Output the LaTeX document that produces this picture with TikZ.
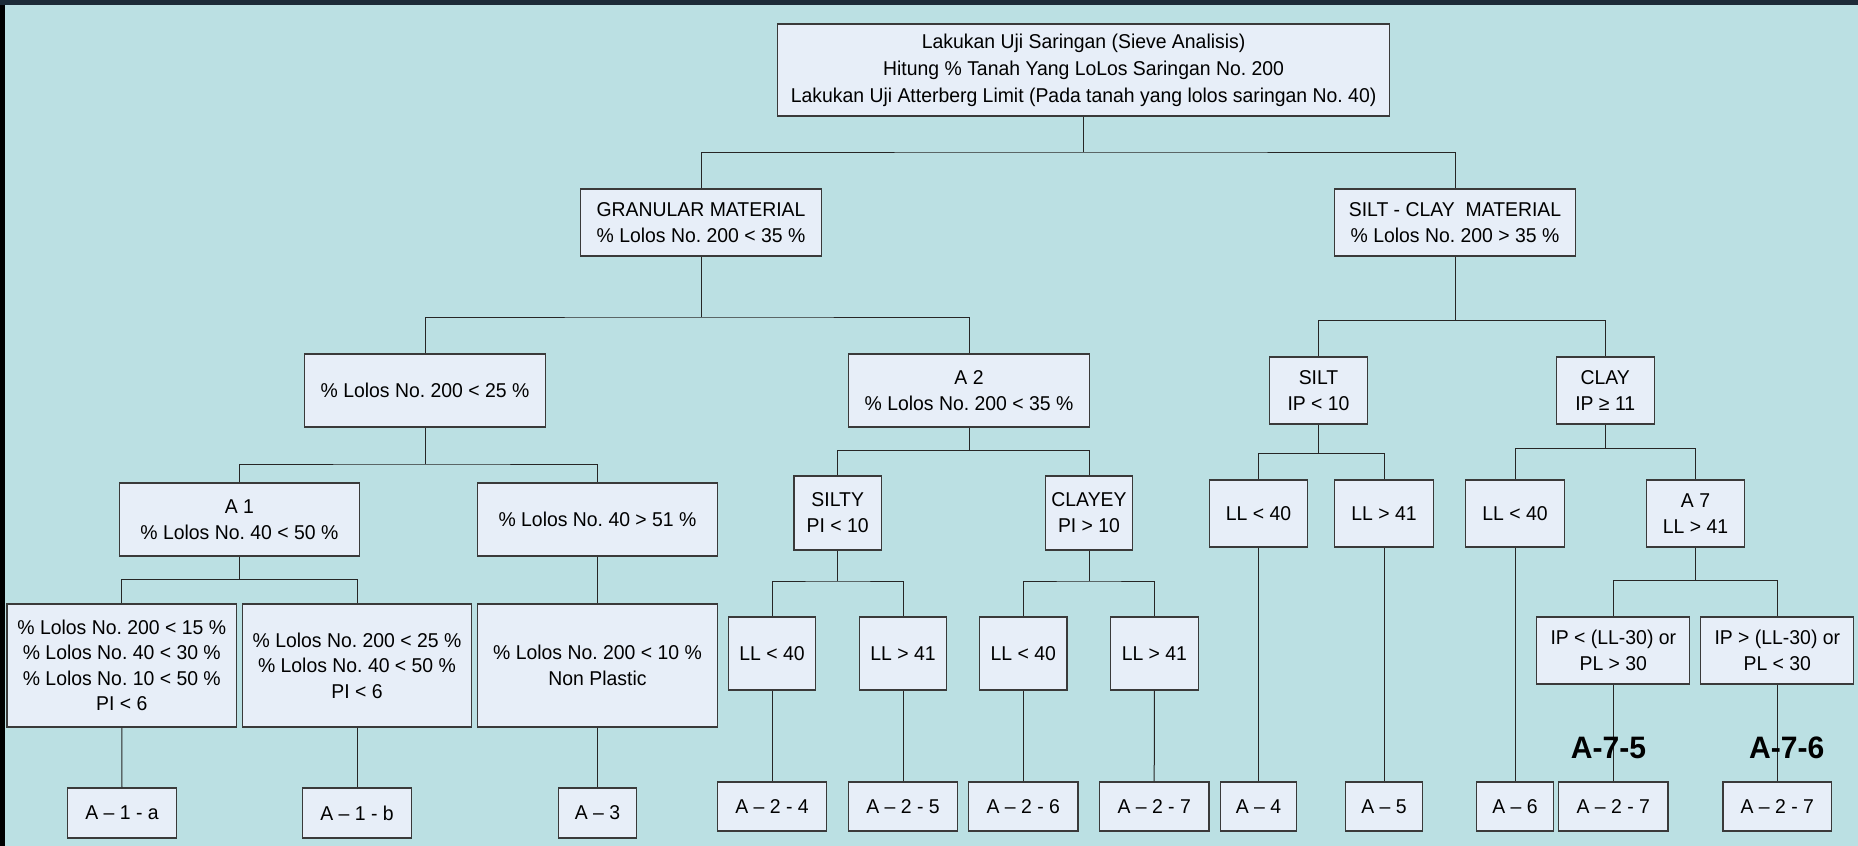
\documentclass[tikz,border=0pt]{standalone}
\usepackage{fontspec}
\setmainfont[FakeStretch=0.97]{Liberation Sans}
\definecolor{bgc}{HTML}{BBE0E3}
\definecolor{boxc}{HTML}{E7EEF8}
\definecolor{edgec}{HTML}{3A3A3A}
\definecolor{topband}{HTML}{1C2B38}
\frenchspacing
\begin{document}
\begin{tikzpicture}[x=1pt,y=-1pt,
  bx/.style={draw=edgec, fill=boxc, line width=1.2pt, align=center, inner sep=0pt,
     font=\fontsize{20}{26}\selectfont},
  conn/.style={draw=black!85, line width=1pt},
  biglab/.style={font=\fontsize{31}{33}\selectfont\bfseries, inner sep=0pt}]
\useasboundingbox (0,0) rectangle (1858,846);
\fill[bgc] (0,0) rectangle (1858,846);
\fill[black] (0,0) rectangle (5,846);
\fill[topband] (0,0) rectangle (1858,5);

% level 0
\node[bx, minimum width=612pt, minimum height=92pt, font=\fontsize{20}{27}\selectfont] (root) at (1083.6,70)
  {Lakukan Uji Saringan (Sieve Analisis)\\Hitung \% Tanah Yang LoLos Saringan No. 200\\Lakukan Uji Atterberg Limit (Pada tanah yang lolos saringan No. 40)};
% level 1
\node[bx, minimum width=241pt, minimum height=67pt] (gran) at (701,222.5) {GRANULAR MATERIAL\\\% Lolos No. 200 < 35 \%};
\node[bx, minimum width=241pt, minimum height=67pt] (sc) at (1455,222.5) {SILT - CLAY\ \ MATERIAL\\\% Lolos No. 200 > 35 \%};
% level 2
\node[bx, minimum width=241pt, minimum height=73pt] (p25) at (425,390.5) {\% Lolos No. 200 < 25 \%};
\node[bx, minimum width=241pt, minimum height=73pt] (a2) at (969,390.5) {A 2\\\% Lolos No. 200 < 35 \%};
\node[bx, minimum width=98pt, minimum height=67pt] (silt) at (1318.5,390.5) {SILT\\IP < 10};
\node[bx, minimum width=98pt, minimum height=67pt] (clay) at (1605.2,390.5) {CLAY\\IP ≥ 11};
% level 3
\node[bx, minimum width=240pt, minimum height=73pt] (a1) at (239.4,519.5) {A 1\\\% Lolos No. 40 < 50 \%};
\node[bx, minimum width=240pt, minimum height=73pt] (p51) at (597.5,519.5) {\% Lolos No. 40 > 51 \%};
\node[bx, minimum width=87.5pt, minimum height=74pt] (silty) at (837.7,513) {SILTY\\PI < 10};
\node[bx, minimum width=87.5pt, minimum height=74pt] (clayey) at (1089,513) {CLAYEY\\PI > 10};
\node[bx, minimum width=98.5pt, minimum height=67pt] (sll40) at (1258.5,513.5) {LL < 40};
\node[bx, minimum width=98.5pt, minimum height=67pt] (sll41) at (1384,513.5) {LL > 41};
\node[bx, minimum width=98.5pt, minimum height=67pt] (cll40) at (1515,513.5) {LL < 40};
\node[bx, minimum width=98.5pt, minimum height=67pt] (a7) at (1695.5,513.5) {A 7\\LL > 41};
% level 4
\node[bx, minimum width=229.5pt, minimum height=123pt, font=\fontsize{20}{25.5}\selectfont] (ca) at (121.8,665.5)
  {\% Lolos No. 200 < 15 \%\\\% Lolos No. 40 < 30 \%\\\% Lolos No. 10 < 50 \%\\PI < 6};
\node[bx, minimum width=229.5pt, minimum height=123pt, font=\fontsize{20}{25.5}\selectfont] (cb) at (357,665.5)
  {\% Lolos No. 200 < 25 \%\\\% Lolos No. 40 < 50 \%\\PI < 6};
\node[bx, minimum width=240pt, minimum height=123pt] (np) at (597.5,665.5) {\% Lolos No. 200 < 10 \%\\Non Plastic};
\node[bx, minimum width=87.5pt, minimum height=73pt] (ll1) at (772,653.5) {LL < 40};
\node[bx, minimum width=87.5pt, minimum height=73pt] (ll2) at (903,653.5) {LL > 41};
\node[bx, minimum width=87.5pt, minimum height=73pt] (ll3) at (1023.3,653.5) {LL < 40};
\node[bx, minimum width=87.5pt, minimum height=73pt] (ll4) at (1154.4,653.5) {LL > 41};
\node[bx, minimum width=153pt, minimum height=67pt] (ipa) at (1613.3,650.5) {IP < (LL-30) or\\PL > 30};
\node[bx, minimum width=153pt, minimum height=67pt] (ipb) at (1777.3,650.5) {IP > (LL-30) or\\PL < 30};
% leaves
\node[bx, minimum width=109.5pt, minimum height=50pt] (la1a) at (122,813) {A – 1 - a};
\node[bx, minimum width=109.5pt, minimum height=50pt] (la1b) at (357,813) {A – 1 - b};
\node[bx, minimum width=77.5pt, minimum height=50pt] (la3) at (597.5,813) {A – 3};
\node[bx, minimum width=109.5pt, minimum height=49pt] (l24) at (772,806.5) {A – 2 - 4};
\node[bx, minimum width=109.5pt, minimum height=49pt] (l25) at (903,806.5) {A – 2 - 5};
\node[bx, minimum width=109.5pt, minimum height=49pt] (l26) at (1023.3,806.5) {A – 2 - 6};
\node[bx, minimum width=109.5pt, minimum height=49pt] (l27) at (1154.2,806.5) {A – 2 - 7};
\node[bx, minimum width=76pt, minimum height=49pt] (l4) at (1258.5,806.5) {A – 4};
\node[bx, minimum width=76.5pt, minimum height=49pt] (l5) at (1384,806.5) {A – 5};
\node[bx, minimum width=76.5pt, minimum height=49pt] (l6) at (1515,806.5) {A – 6};
\node[bx, minimum width=109.2pt, minimum height=49pt] (l27b) at (1613.3,806.5) {A – 2 - 7};
\node[bx, minimum width=108.7pt, minimum height=49pt] (l27c) at (1777.3,806.5) {A – 2 - 7};

% bus coordinates
\coordinate (b1) at (0,152);
\coordinate (b2) at (0,317);
\coordinate (b3) at (0,464);
\coordinate (b4) at (0,450.7);
\coordinate (b5) at (0,320.7);
\coordinate (b6) at (0,453.7);
\coordinate (b7) at (0,448.7);
\coordinate (b8) at (0,579.5);
\coordinate (b9) at (0,581);
\coordinate (b11) at (0,580.7);

% connectors (tree buses)
\draw[conn] (root.south) -- (root.south |- b1);
\draw[conn] (gran.north) |- (root.south |- b1) -| (sc.north);
\draw[conn] (gran.south) -- (gran.south |- b2);
\draw[conn] (p25.north) |- (gran.south |- b2) -| (a2.north);
\draw[conn] (p25.south) -- (p25.south |- b3);
\draw[conn] (a1.north) |- (p25.south |- b3) -| (p51.north);
\draw[conn] (a2.south) -- (a2.south |- b4);
\draw[conn] (silty.north) |- (a2.south |- b4) -| (clayey.north);
\draw[conn] (sc.south) -- (sc.south |- b5);
\draw[conn] (silt.north) |- (sc.south |- b5) -| (clay.north);
\draw[conn] (silt.south) -- (silt.south |- b6);
\draw[conn] (sll40.north) |- (silt.south |- b6) -| (sll41.north);
\draw[conn] (clay.south) -- (clay.south |- b7);
\draw[conn] (cll40.north) |- (clay.south |- b7) -| (a7.north);
\draw[conn] (a1.south) -- (a1.south |- b8);
\draw[conn] (ca.north) |- (a1.south |- b8) -| (cb.north);
\draw[conn] (silty.south) -- (silty.south |- b9);
\draw[conn] (ll1.north) |- (silty.south |- b9) -| (ll2.north);
\draw[conn] (clayey.south) -- (clayey.south |- b9);
\draw[conn] (ll3.north) |- (clayey.south |- b9) -| (ll4.north);
\draw[conn] (a7.south) -- (a7.south |- b11);
\draw[conn] (ipa.north) |- (a7.south |- b11) -| (ipb.north);
% direct connectors
\draw[conn] (p51.south) -- (np.north);
\draw[conn] (ca.south) -- (la1a.north);
\draw[conn] (cb.south) -- (la1b.north);
\draw[conn] (np.south) -- (la3.north);
\draw[conn] (ll1.south) -- (l24.north);
\draw[conn] (ll2.south) -- (l25.north);
\draw[conn] (ll3.south) -- (l26.north);
\draw[conn] (ll4.south) -- (l27.north);
\draw[conn] (sll40.south) -- (l4.north);
\draw[conn] (sll41.south) -- (l5.north);
\draw[conn] (cll40.south) -- (l6.north);
\draw[conn] (ipa.south) -- (l27b.north);
\draw[conn] (ipb.south) -- (l27c.north);

% labels
\node[biglab] (lab75) at (1608.5,748) {A-7-5};
\node[biglab] (lab76) at (1786.7,748) {A-7-6};
\end{tikzpicture}
\end{document}
